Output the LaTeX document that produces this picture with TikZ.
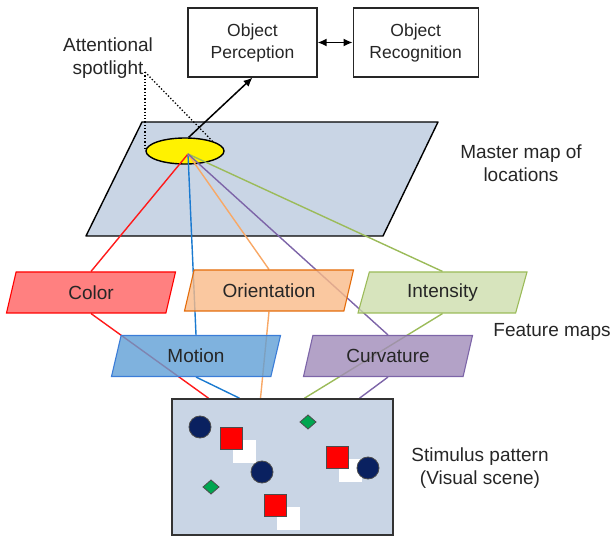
\documentclass[tikz,border=0pt]{standalone}
\usepackage{fontspec}
\setmainfont{Liberation Sans}
\usetikzlibrary{positioning, shapes.geometric, arrows.meta}

\definecolor{mapblue}{HTML}{C9D5E5}
\definecolor{navy}{HTML}{0A2160}
\definecolor{itemgreen}{HTML}{00A650}
\definecolor{linered}{HTML}{FF1A1A}
\definecolor{lineblue}{HTML}{1A7AD0}
\definecolor{lineorange}{HTML}{F8A866}
\definecolor{linepurple}{HTML}{7D65A8}
\definecolor{linegreen}{HTML}{9BBB59}

\pgfdeclarelayer{back}
\pgfdeclarelayer{wires}
\pgfsetlayers{back,wires,main}

\begin{document}
\begin{tikzpicture}[
            x=1pt, y=-1pt,
            >={Latex[length=9pt, width=8pt]},
            every node/.style = {text=black!85, font=\fontsize{19}{23}\selectfont},
            box/.style = {rectangle, draw=black!85, line width=1.2pt, align=center, minimum height=69pt, font=\fontsize{17.5}{22}\selectfont},
            feat/.style = {trapezium, trapezium left angle=65, trapezium right angle=115, trapezium stretches body,
                           minimum width=169pt, minimum height=41pt, line width=1.1pt, fill opacity=0.8, text opacity=1},
            wire/.style = {line width=1.4pt},
            item/.style = {draw=black!70, line width=0.8pt}
        ]
            \useasboundingbox (0,0) rectangle (611,537);

            % --- top: perception / recognition ---
            \node [box, minimum width=129pt] (percep) at (252.5,42.5) {Object\\Perception};
            \node [box, minimum width=125pt, right=35pt of percep] (recog) {Object\\Recognition};

            % --- master map with the spotlight ---
            \begin{pgfonlayer}{back}
                \draw [fill=mapblue, line width=1.4pt, line join=round] (142,122) -- (438,122) -- (383,236) -- (86,236) -- cycle;
                \node [ellipse, draw=black, line width=1.4pt, fill=yellow, minimum width=78pt, minimum height=26pt, inner sep=0] (spot) at (185,151) {};
            \end{pgfonlayer}
            \node [align=center] (spotlabel) at (108,58) {Attentional\\spotlight};
            \node [align=center] (masterlabel) at (521,163) {Master map of\\locations};
            \coordinate (tip) at (145,72);
            \coordinate (focus) at (188,154);

            % --- feature maps ---
            \node [feat, draw=red, fill={rgb,255:red,255;green,96;blue,96}] (color) at (91,292.5) {Color};
            \node [feat, draw={rgb,255:red,228;green,108;blue,10}, fill={rgb,255:red,249;green,186;blue,136}] (orient) at (269,290.5) {Orientation};
            \node [feat, draw=linegreen, fill={rgb,255:red,205;green,221;blue,172}] (intens) at (442.5,292.5) {Intensity};
            \node [feat, draw={rgb,255:red,59;green,125;blue,216}, fill={rgb,255:red,95;green,159;blue,214}] (motion) at (196,356) {Motion};
            \node [feat, draw=linepurple, fill={rgb,255:red,160;green,139;blue,185}] (curv) at (388,356) {Curvature};
            \node (featlabel) at (552,332) {Feature maps};

            % --- stimulus pattern ---
            \node [draw=black!80, line width=1.6pt, fill=mapblue, minimum width=221pt, minimum height=136pt, inner sep=0] (scene) at (282.5,467) {};
            \node [align=center] (scenelabel) at (480,468) {Stimulus pattern\\(Visual scene)};

            \foreach \cx/\cy in {231/438, 337/457, 275/505} {
                \fill [white] (\cx+2,\cy+2) rectangle (\cx+25,\cy+25);
                \draw [item, fill=red] (\cx-11,\cy-11) rectangle (\cx+11,\cy+11);
            }
            \foreach \cx/\cy in {200/427, 262/472, 368/468}
                \draw [item, fill=navy] (\cx,\cy) circle (11);
            \foreach \cx/\cy in {308/422, 211/487}
                \draw [item, fill=itemgreen] (\cx-8,\cy) -- (\cx,\cy-7) -- (\cx+8,\cy) -- (\cx,\cy+7) -- cycle;

            % --- connections ---
            \draw [->, line width=1.5pt] (spot.75) -- (percep.south);
            \draw [<->, line width=1.5pt] (percep) -- (recog);
            \draw [dotted, line width=1.3pt] (tip) -- (tip |- spot.west);
            \draw [dotted, line width=1.3pt] (tip) -- (spot.20);

            % feature lines run under the maps
            \begin{pgfonlayer}{wires}
                \draw [wire, linered] (focus) -- (color.north);
                \draw [wire, linered] (color.south) -- ([xshift=-74pt]scene.north);
                \draw [wire, lineblue] (focus) -- (motion.north);
                \draw [wire, lineblue] (motion.south) -- ([xshift=-43pt]scene.north);
                \draw [wire, lineorange] (focus) -- (orient.north);
                \draw [wire, lineorange] (orient.south) -- ([xshift=-22pt]scene.north);
                \draw [wire, linegreen] (focus) -- (intens.north);
                \draw [wire, linegreen] (intens.south) -- ([xshift=22pt]scene.north);
                \draw [wire, linepurple] (focus) -- (curv.north);
                \draw [wire, linepurple] (curv.south) -- ([xshift=77pt]scene.north);
            \end{pgfonlayer}

        \end{tikzpicture}
\end{document}
